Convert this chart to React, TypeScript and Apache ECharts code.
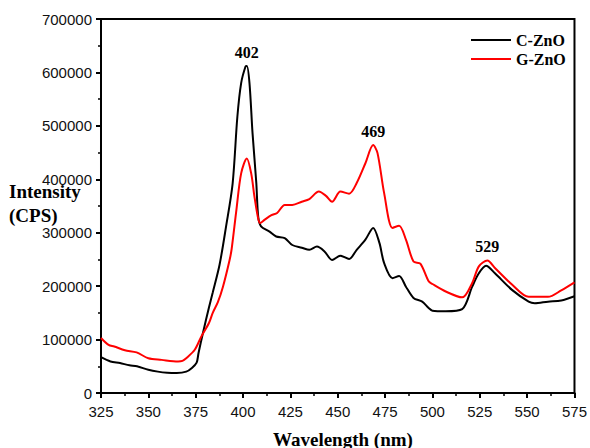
import React, { useEffect, useRef } from "react";
import * as echarts from "echarts";

const cZnOWavelengths = [325, 330, 335, 340, 344, 350, 355, 360, 365, 370, 373, 375.5, 376.5, 378.8, 382, 384, 387.6, 391, 394.5, 397, 399, 401.3, 402, 403.4, 405, 407, 408, 409.5, 414, 417.5, 422, 426, 431, 435, 439, 443, 447, 451.4, 456, 460, 464.6, 468.7, 472, 474.5, 478.9, 482.4, 486, 490, 494.6, 498, 500, 507, 515.7, 521, 524.5, 528.3, 533, 542, 550.8, 554, 561, 568, 575];
const cZnOValues = [67000, 59000, 56000, 52000, 50000, 43500, 40000, 38000, 37500, 40000, 47000, 57000, 75000, 112000, 160000, 188000, 240000, 311000, 392000, 517000, 580000, 611000, 612000, 580000, 487000, 393000, 330000, 312000, 302000, 293000, 290000, 277000, 272000, 268000, 274000, 265000, 249000, 257000, 251000, 268000, 287000, 309000, 281000, 243000, 215000, 219000, 199000, 178000, 171000, 159000, 154000, 153000, 157000, 199000, 224000, 238000, 224000, 193000, 171000, 168000, 171000, 173000, 181000];

const gZnOWavelengths = [325, 329, 332, 337.6, 343.8, 350, 357, 365.7, 368, 370, 374.5, 378, 382, 384, 386.7, 389.4, 392.9, 394, 396.4, 399, 402, 404.3, 406, 407.8, 409, 411.3, 415, 418, 422, 426, 431, 435, 440, 443.8, 447, 451.4, 456, 460, 464.6, 468.7, 471, 474.5, 478.9, 482.4, 486, 490, 493.6, 498, 500, 507, 515.7, 521, 524.5, 529, 533, 542, 550.8, 561, 568, 575];
const gZnOValues = [103000, 90000, 87000, 80000, 76000, 65000, 62000, 59000, 60000, 65000, 81000, 106000, 131000, 150000, 170000, 199000, 249000, 270000, 340000, 411000, 439000, 411000, 368000, 330000, 318000, 324000, 333000, 337000, 352000, 352000, 358000, 363000, 377000, 369000, 358000, 377000, 373000, 393000, 430000, 464000, 449000, 374000, 309000, 313000, 287000, 246000, 242000, 209000, 204000, 190000, 179000, 206000, 237000, 248000, 234000, 203000, 180000, 180000, 192000, 207000];

const peakLabels = [
  { series: "C-ZnO", x: 402, y: 612000, text: "402" },
  { series: "G-ZnO", x: 468.7, y: 464000, text: "469" },
  { series: "G-ZnO", x: 529, y: 248000, text: "529" },
];

const serif = "'Times New Roman', 'Liberation Serif', serif";
const sans = "Arial, 'Liberation Sans', sans-serif";

export default function App() {
  const ref = useRef<HTMLDivElement>(null);
  useEffect(() => {
    if (!ref.current) return;
    const chart = echarts.init(ref.current, null, { renderer: "svg" });
    const mk = (name: string) => ({
      symbol: "circle",
      symbolSize: 1,
      itemStyle: { color: "rgba(0,0,0,0)" },
      label: {
        show: true,
        position: "top",
        distance: 5,
        formatter: "{b}",
        color: "#000",
        fontFamily: serif,
        fontWeight: "bold",
        fontSize: 16,
      },
      data: peakLabels
        .filter((p) => p.series === name)
        .map((p) => ({ name: p.text, coord: [p.x, p.y] })),
    });
    chart.setOption({
      animation: false,
      grid: {
        left: 101,
        right: 14,
        top: 19,
        bottom: 55,
        show: true,
        borderColor: "#000",
        borderWidth: 2,
        backgroundColor: "transparent",
      },
      legend: {
        orient: "vertical",
        left: 466,
        top: 27,
        icon: "rect",
        itemWidth: 40,
        itemHeight: 2,
        itemGap: 3,
        textStyle: { fontFamily: serif, fontWeight: "bold", fontSize: 16, color: "#000" },
        data: ["C-ZnO", "G-ZnO"],
      },
      xAxis: {
        type: "value",
        min: 325,
        max: 575,
        interval: 25,
        splitLine: { show: false },
        axisLine: { lineStyle: { color: "#000", width: 2 } },
        axisTick: { length: 5, lineStyle: { color: "#000", width: 2 } },
        minorTick: { show: true, splitNumber: 2, length: 3, lineStyle: { color: "#000", width: 1.5 } },
        axisLabel: { color: "#111", fontFamily: sans, fontSize: 15, margin: 11 },
      },
      yAxis: {
        type: "value",
        min: 0,
        max: 700000,
        interval: 100000,
        splitLine: { show: false },
        axisLine: { show: true, lineStyle: { color: "#000", width: 2 } },
        axisTick: { show: true, length: 5, lineStyle: { color: "#000", width: 2 } },
        minorTick: { show: true, splitNumber: 2, length: 3, lineStyle: { color: "#000", width: 1.5 } },
        axisLabel: { color: "#111", fontFamily: sans, fontSize: 15, margin: 9, formatter: (v: number) => String(v) },
      },
      graphic: [
        {
          type: "text",
          left: 9,
          top: 182,
          style: { text: "Intensity", font: `bold 19px ${serif}`, fill: "#000" },
        },
        {
          type: "text",
          left: 9,
          top: 206,
          style: { text: "(CPS)", font: `bold 19px ${serif}`, fill: "#000" },
        },
        {
          type: "text",
          left: 273,
          top: 430,
          style: { text: "Wavelength (nm)", font: `bold 19px ${serif}`, fill: "#000" },
        },
      ],
      series: [
        {
          name: "C-ZnO",
          type: "line",
          symbol: "none",
          smooth: 0.3,
          lineStyle: { color: "#000", width: 2 },
          itemStyle: { color: "#000" },
          data: cZnOWavelengths.map((w, i) => [w, cZnOValues[i]]),
          markPoint: mk("C-ZnO"),
        },
        {
          name: "G-ZnO",
          type: "line",
          symbol: "none",
          smooth: 0.3,
          lineStyle: { color: "#ff0000", width: 2 },
          itemStyle: { color: "#ff0000" },
          data: gZnOWavelengths.map((w, i) => [w, gZnOValues[i]]),
          markPoint: mk("G-ZnO"),
        },
      ],
    });
    return () => chart.dispose();
  }, []);
  return <div ref={ref} style={{ width: 590, height: 448, position: "absolute", left: 0, top: 0 }} />;
}
